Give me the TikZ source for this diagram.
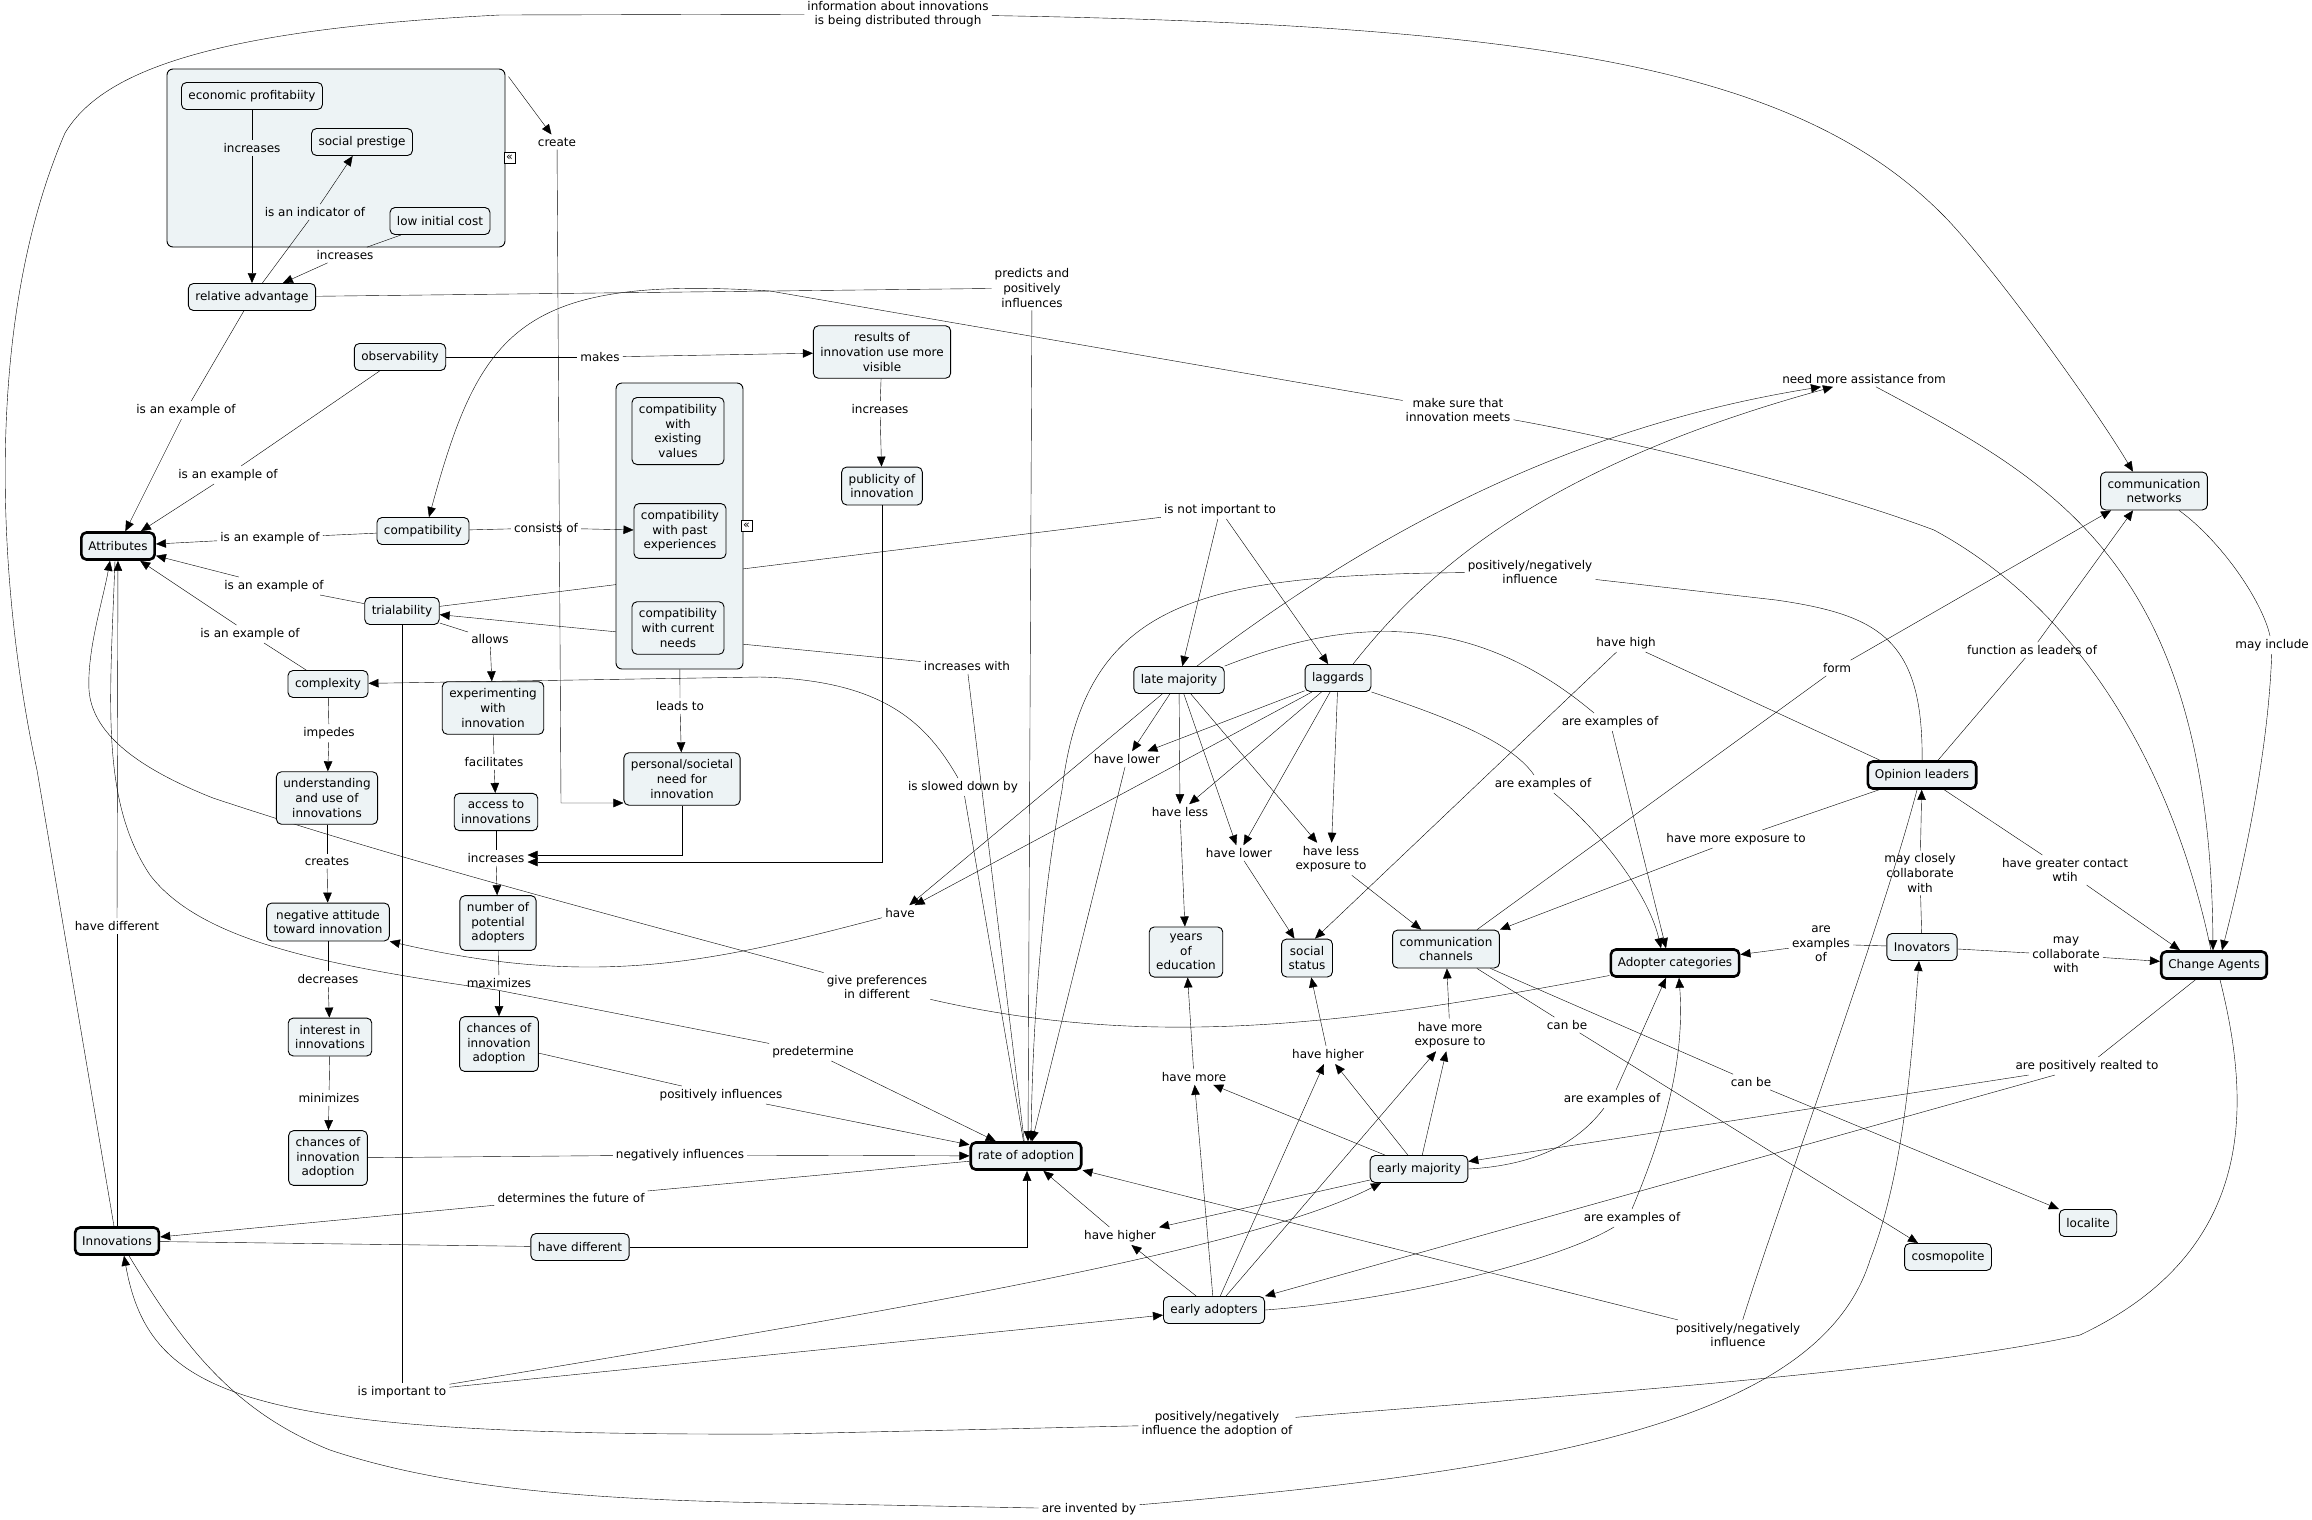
\documentclass[tikz,border=0pt]{standalone}
\usepackage{fontspec}
\setmainfont{DejaVu Sans}
\usetikzlibrary{arrows.meta}
\definecolor{cfill}{HTML}{EDF3F5}
\pgfdeclarelayer{low}
\pgfdeclarelayer{grp}
\pgfdeclarelayer{edges}
\pgfsetlayers{low,grp,edges,main}

\begin{document}
\begin{tikzpicture}[x=1pt,y=-1pt,line width=0.95pt,
    font=\fontsize{12}{14.6}\selectfont,
    concept/.style={draw,fill=cfill,rounded corners=5pt,align=center,inner xsep=7pt,inner ysep=7pt,minimum height=27pt,line width=0.9pt},
    key/.style={concept,line width=2.6pt},
    link/.style={align=center,inner sep=3pt},
    group/.style={draw,fill=cfill,rounded corners=6pt,line width=0.9pt},
    fold/.style={draw,fill=white,line width=0.8pt,inner sep=0pt,minimum size=11pt,font=\fontsize{11}{11}\selectfont},
    arr/.style={-{Triangle[length=10pt,width=8.5pt]}}]
    \useasboundingbox (0,0) rectangle (2312,1519);

    \begin{pgfonlayer}{grp}
        \node[group,minimum width=338pt,minimum height=178pt] (grp1) at (336,158) {};
        \node[group,minimum width=127pt,minimum height=286pt] (grp2) at (679.5,526) {};
    \end{pgfonlayer}
    \node[fold] (fold1) at (509.5,157.5) {«};
    \node[fold] (fold2) at (746.5,526) {«};

    % concepts
    \node[concept] (ep) at (252,96) {economic profitabiity};
    \node[concept] (sp) at (362,142) {social prestige};
    \node[concept] (lic) at (440,221) {low initial cost};
    \node[concept] (ra) at (252,297) {relative advantage};
    \node[concept] (obs) at (400,357) {observability};
    \node[concept] (res) at (882,352) {results of\\innovation use more\\visible};
    \node[concept] (pub) at (882,486) {publicity of\\innovation};
    \node[concept] (comp) at (423,531) {compatibility};
    \node[concept] (cev) at (678,431) {compatibility\\with\\existing\\values};
    \node[concept] (cpe) at (680,531) {compatibility\\with past\\experiences};
    \node[concept] (ccn) at (678,628) {compatibility\\with current\\needs};
    \node[key] (attr) at (118,546) {Attributes};
    \node[concept] (trial) at (402,611) {trialability};
    \node[concept] (cplx) at (328,684) {complexity};
    \node[concept] (exper) at (493,708) {experimenting\\with\\innovation};
    \node[concept] (und) at (327,798) {understanding\\and use of\\innovations};
    \node[concept] (acc) at (496,812) {access to\\innovations};
    \node[concept] (need) at (682,779) {personal/societal\\need for\\innovation};
    \node[concept] (neg) at (328,922) {negative attitude\\toward innovation};
    \node[concept] (npa) at (498,923) {number of\\potential\\adopters};
    \node[concept] (intr) at (330,1037) {interest in\\innovations};
    \node[concept] (chr) at (499,1044) {chances of\\innovation\\adoption};
    \node[concept] (chl) at (328,1158) {chances of\\innovation\\adoption};
    \node[key] (inn) at (117,1241) {Innovations};
    \node[concept] (hdiff) at (580,1247) {have different};
    \node[key] (roa) at (1026,1156) {rate of adoption};
    \node[concept] (lm) at (1179,680) {late majority};
    \node[concept] (lag) at (1338,678) {laggards};
    \node[concept] (yoe) at (1186,952) {years\\of\\education};
    \node[concept] (ss) at (1307,958) {social\\status};
    \node[concept] (cch) at (1446,949) {communication\\channels};
    \node[concept] (em) at (1419,1169) {early majority};
    \node[concept] (ea) at (1214,1310) {early adopters};
    \node[concept] (cnet) at (2154,491) {communication\\networks};
    \node[key] (ol) at (1922,775) {Opinion leaders};
    \node[concept] (inov) at (1922,947) {Inovators};
    \node[key] (ac) at (1675,963) {Adopter categories};
    \node[key] (ca) at (2214,965) {Change Agents};
    \node[concept] (loc) at (2088,1223) {localite};
    \node[concept] (cos) at (1948,1257) {cosmopolite};

    % linking phrases
    \node[link] (l1) at (252,148) {increases};
    \node[link] (l2) at (315,212) {is an indicator of};
    \node[link] (l3) at (345,255) {increases};
    \node[link] (lcreate) at (557,142) {create};
    \node[link] (lmakes) at (600,357) {makes};
    \node[link] (l4) at (186,410) {is an example of};
    \node[link] (l5) at (228,475) {is an example of};
    \node[link] (l6) at (270,538) {is an example of};
    \node[link] (l7) at (274,586) {is an example of};
    \node[link] (l8) at (250,634) {is an example of};
    \node[link] (lcons) at (546,528) {consists of};
    \node[link] (lallows) at (490,639) {allows};
    \node[link] (limp) at (329,733) {impedes};
    \node[link] (lleads) at (680,706) {leads to};
    \node[link] (lfac) at (494,762) {facilitates};
    \node[link] (lcreates) at (327,861) {creates};
    \node[link] (linc) at (496,858) {increases};
    \node[link] (lhd) at (117,926) {have different};
    \node[link] (ldec) at (328,979) {decreases};
    \node[link] (lmax) at (499,983) {maximizes};
    \node[link] (lmin) at (329,1098) {minimizes};
    \node[link] (lneg) at (680,1155) {negatively influences};
    \node[link] (lpos) at (721,1095) {positively influences};
    \node[link] (ldet) at (571,1198) {determines the future of};
    \node[link] (limpt) at (402,1392) {is important to};
    \node[link] (linfo) at (898,14) {information about innovations\\is being distributed through};
    \node[link] (lpred) at (1032,288) {predicts and\\positively\\influences};
    \node[link] (linc2) at (880,409) {increases};
    \node[link] (lnot) at (1220,510) {is not important to};
    \node[link] (lmake) at (1458,410) {make sure that\\innovation meets};
    \node[link] (lincw) at (967,666) {increases with};
    \node[link] (lneed) at (1864,379) {need more assistance from};
    \node[link] (lpn1) at (1530,572) {positively/negatively\\influence};
    \node[link] (lhigh) at (1626,643) {have high};
    \node[link] (lform) at (1837,668) {form};
    \node[link] (lfunc) at (2032,650) {function as leaders of};
    \node[link] (lincl) at (2272,645) {may include};
    \node[link] (lex1) at (1610,722) {are examples of};
    \node[link] (lex2) at (1543,784) {are examples of};
    \node[link] (lhl1) at (1127,759) {have lower};
    \node[link] (lslow) at (963,787) {is slowed down by};
    \node[link] (lless) at (1180,812) {have less};
    \node[link] (lhl2) at (1239,853) {have lower};
    \node[link] (llexp) at (1331,859) {have less\\exposure to};
    \node[link] (lhave) at (900,913) {have};
    \node[link] (lgive) at (877,987) {give preferences\\in different};
    \node[link] (lpre) at (813,1052) {predetermine};
    \node[link] (lmexp) at (1450,1035) {have more\\exposure to};
    \node[link] (lhh1) at (1328,1055) {have higher};
    \node[link] (lmore) at (1194,1077) {have more};
    \node[link] (lhh2) at (1120,1236) {have higher};
    \node[link] (lpn2) at (1217,1424) {positively/negatively\\influence the adoption of};
    \node[link] (linv) at (1089,1509) {are invented by};
    \node[link] (lolexp) at (1736,839) {have more exposure to};
    \node[link] (lclose) at (1920,873) {may closely\\collaborate\\with};
    \node[link] (lgreat) at (2065,870) {have greater contact\\wtih};
    \node[link] (lex3) at (1821,944) {are\\examples\\of};
    \node[link] (lcollab) at (2066,955) {may\\collaborate\\with};
    \node[link] (lcan1) at (1567,1025) {can be};
    \node[link] (lcan2) at (1751,1082) {can be};
    \node[link] (lreal) at (2087,1066) {are positively realted to};
    \node[link] (lex4) at (1612,1099) {are examples of};
    \node[link] (lex5) at (1632,1218) {are examples of};
    \node[link] (lpn3) at (1738,1335) {positively/negatively\\influence};

    % lines that run behind the compatibility group
    \begin{pgfonlayer}{low}
        \draw (trial) -- (lnot);
        \draw[arr] (lincw) -- (trial);
    \end{pgfonlayer}

    \begin{pgfonlayer}{edges}
        % attributes
        \draw (ep) -- (l1); \draw[arr] (l1) -- (ra);
        \draw (ra) -- (l2); \draw[arr] (l2) -- (sp);
        \draw (lic) -- (l3); \draw[arr] (l3) -- (ra);
        \draw[arr] ([xshift=3pt,yshift=-8pt]grp1.north east) -- (lcreate);
        \draw[arr] (lcreate) -- (561,803) -- ([yshift=-24pt]need.west);
        \draw (obs) -- (lmakes); \draw[arr] (lmakes) -- (res);
        \draw (res) -- (linc2); \draw[arr] (linc2) -- (pub);
        \draw[arr] (pub.south) |- ([yshift=-4pt]linc.east);
        \draw[arr] (need.south) |- ([yshift=3pt]linc.east);
        \draw (acc) -- (linc); \draw[arr] (linc) -- (npa);
        \draw (comp) -- (lcons); \draw[arr] (lcons) -- (cpe);
        \draw (ra) -- (l4); \draw[arr] (l4) -- (attr);
        \draw (obs) -- (l5); \draw[arr] (l5) -- (attr);
        \draw (comp) -- (l6); \draw[arr] (l6) -- (attr);
        \draw (trial) -- (l7); \draw[arr] (l7) -- (attr);
        \draw (cplx) -- (l8); \draw[arr] (l8) -- (attr);
        \draw (trial) -- (lallows); \draw[arr] (lallows) -- (exper);
        \draw (exper) -- (lfac); \draw[arr] (lfac) -- (acc);
        \draw (cplx) -- (limp); \draw[arr] (limp) -- (und);
        \draw (und) -- (lcreates); \draw[arr] (lcreates) -- (neg);
        \draw (neg) -- (ldec); \draw[arr] (ldec) -- (intr);
        \draw (intr) -- (lmin); \draw[arr] (lmin) -- (chl);
        \draw (npa) -- (lmax); \draw[arr] (lmax) -- (chr);
        \draw (grp2) -- (lleads); \draw[arr] (lleads) -- (need);

        % rate of adoption
        \draw (chl) -- (lneg); \draw[arr] (lneg) -- (roa);
        \draw (chr) -- (lpos); \draw[arr] (lpos) -- (roa);
        \draw (ra) -- (lpred); \draw[arr] (lpred) -- ([xshift=2pt]roa.north);
        \draw (roa) -- (lincw);
        \draw (roa) -- (lslow);
        \draw[arr] ([xshift=-5pt]lslow.north) .. controls (925,720) and (880,680) .. (760,677) -- (cplx);
        \draw (roa) -- (ldet); \draw[arr] (ldet) -- (inn);
        \draw (inn) -- (hdiff); \draw[arr] (hdiff.east) -| ([xshift=1pt]roa.south);
        \draw (inn) -- (lhd); \draw[arr] (lhd) -- (attr);
        \draw ([xshift=-3pt]attr.south) .. controls (110,700) and (100,800) .. (150,875)
            .. controls (200,940) and (320,965) .. (497,990) -- (lpre);
        \draw[arr] (lpre) -- (roa);
        \draw (ac) .. controls (1350,1025) and (1150,1050) .. (lgive);
        \draw[arr] (lgive) .. controls (600,912) and (400,860) .. (213,798)
            .. controls (130,765) and (92,730) .. (89,690)
            .. controls (87,650) and (103,600) .. ([xshift=-8pt]attr.south);
        \draw (trial) -- (limpt);
        \draw[arr] (limpt) -- (ea);
        \draw[arr] (limpt) .. controls (900,1310) and (1250,1250) .. ([xshift=-38pt]em.south);

        % long arcs
        \draw ([xshift=-3pt]inn.north) -- (37,770) .. controls (0,600) and (-20,330) .. (65,133)
            .. controls (100,75) and (200,30) .. (500,15) -- (linfo);
        \draw[arr] (linfo) .. controls (1550,25) and (1800,70) .. (1944,216)
            .. controls (1990,263) and (2090,400) .. ([xshift=-21pt]cnet.north);
        \draw (ca) .. controls (2180,800) and (2100,620) .. (1934,530)
            .. controls (1800,480) and (1600,435) .. (lmake);
        \draw[arr] (lmake) -- (770,291) .. controls (520,275) and (480,330) .. ([xshift=6pt]comp.north);
        \draw ([xshift=6pt]ca.south) .. controls (2250,1100) and (2260,1250) .. (2080,1335)
            .. controls (1900,1375) and (1500,1400) .. (lpn2);
        \draw[arr] (lpn2) -- (780,1434) .. controls (250,1436) and (150,1400) .. ([xshift=7pt]inn.south);
        \draw ([xshift=12pt]inn.south) .. controls (180,1340) and (230,1410) .. (330,1450)
            .. controls (450,1490) and (600,1500) .. (780,1503) -- (linv);
        \draw[arr] (linv) .. controls (1550,1470) and (1820,1420) .. (1870,1260)
            .. controls (1905,1170) and (1912,1050) .. ([xshift=-3pt]inov.south);

        % adopter categories
        \draw[arr] (lnot) -- (lm); \draw[arr] (lnot) -- (lag);
        \draw[arr] ([xshift=18pt]lm.north) .. controls (1350,550) and (1550,430) .. ([xshift=-43pt]lneed.south);
        \draw[arr] ([xshift=15pt]lag.north) .. controls (1420,580) and (1530,470) .. ([xshift=-31pt]lneed.south);
        \draw[arr] ([xshift=12pt]lneed.south) .. controls (2050,480) and (2210,560) .. ([xshift=-1pt]ca.north);
        \draw[arr] (lm) -- (lhl1); \draw[arr] (lag) -- (lhl1);
        \draw[arr] (lhl1) -- ([xshift=6pt]roa.north);
        \draw[arr] (lm) -- (lless); \draw[arr] (lag) -- (lless); \draw[arr] (lless) -- (yoe);
        \draw[arr] (lm) -- (lhl2); \draw[arr] (lag) -- (lhl2); \draw[arr] (lhl2) -- (ss);
        \draw[arr] (lm) -- (llexp); \draw[arr] (lag) -- (llexp); \draw[arr] (llexp) -- (cch);
        \draw[arr] (lm) -- (lhave); \draw[arr] (lag) -- (lhave);
        \draw[arr] (lhave) .. controls (720,960) and (600,990) .. (neg.south east);
        \draw (lm.north east) .. controls (1330,625) and (1460,600) .. ([xshift=-16pt]lex1.north);
        \draw[arr] (lex1) -- ([xshift=-9pt]ac.north);
        \draw (lag.south east) .. controls (1440,715) and (1510,740) .. ([xshift=-9pt]lex2.north);
        \draw[arr] (lex2) .. controls (1610,840) and (1650,900) .. ([xshift=-14pt]ac.north);
        \draw[arr] (em) -- (lmore); \draw[arr] (ea) -- (lmore); \draw[arr] (lmore) -- (yoe);
        \draw[arr] (em) -- (lhh1); \draw[arr] (ea) -- (lhh1); \draw[arr] (lhh1) -- (ss);
        \draw[arr] (em) -- (lmexp); \draw[arr] (ea) -- (lmexp); \draw[arr] (lmexp) -- (cch);
        \draw[arr] (em) -- (lhh2); \draw[arr] (ea) -- (lhh2); \draw[arr] (lhh2) -- (roa);
        \draw (em.east) .. controls (1540,1165) and (1580,1140) .. ([xshift=-8pt]lex4.south);
        \draw[arr] (lex4) -- ([xshift=-9pt]ac.south);
        \draw (ea.east) .. controls (1400,1300) and (1560,1260) .. ([xshift=-18pt]lex5.south);
        \draw[arr] (lex5.north) .. controls (1665,1130) and (1685,1060) .. ([xshift=4pt]ac.south);

        % opinion leaders, change agents
        \draw (ol) .. controls (1923,640) and (1880,615) .. (1776,600) -- (lpn1);
        \draw[arr] (lpn1) .. controls (1200,575) and (1085,600) .. (1062,790)
            .. controls (1045,880) and (1033,1000) .. ([xshift=5pt]roa.north);
        \draw ([xshift=-5pt]ol.south) .. controls (1880,930) and (1780,1200) .. (lpn3);
        \draw[arr] (lpn3) -- (roa);
        \draw ([xshift=-42pt]ol.north) -- (lhigh); \draw[arr] (lhigh) -- ([xshift=8pt]ss.north);
        \draw ([xshift=16pt]ol.north) -- (lfunc); \draw[arr] (lfunc) -- ([xshift=-21pt]cnet.south);
        \draw ([xshift=31pt]cch.north) -- (lform); \draw[arr] (lform) -- ([xshift=-43pt]cnet.south);
        \draw ([xshift=25pt]cnet.south) .. controls (2220,540) and (2262,600) .. (lincl);
        \draw[arr] (lincl) .. controls (2268,760) and (2240,880) .. ([xshift=8pt]ca.north);
        \draw (ol) -- (lolexp); \draw[arr] (lolexp) -- (cch.north east);
        \draw (ol) -- (lgreat); \draw[arr] (lgreat) -- ([xshift=-34pt]ca.north);
        \draw (inov) -- (lclose); \draw[arr] (lclose) -- (ol);
        \draw (inov) -- (lcollab); \draw[arr] (lcollab) -- (ca);
        \draw (inov) -- (lex3); \draw[arr] (lex3) -- (ac);
        \draw (cch) -- (lcan1); \draw[arr] (lcan1) -- ([xshift=-30pt]cos.north);
        \draw (cch) -- (lcan2); \draw[arr] (lcan2) -- (loc.north west);
        \draw (ca) -- (lreal);
        \draw[arr] (lreal) -- (em);
        \draw[arr] (lreal) -- (ea.north east);
    \end{pgfonlayer}
\end{tikzpicture}
\end{document}
